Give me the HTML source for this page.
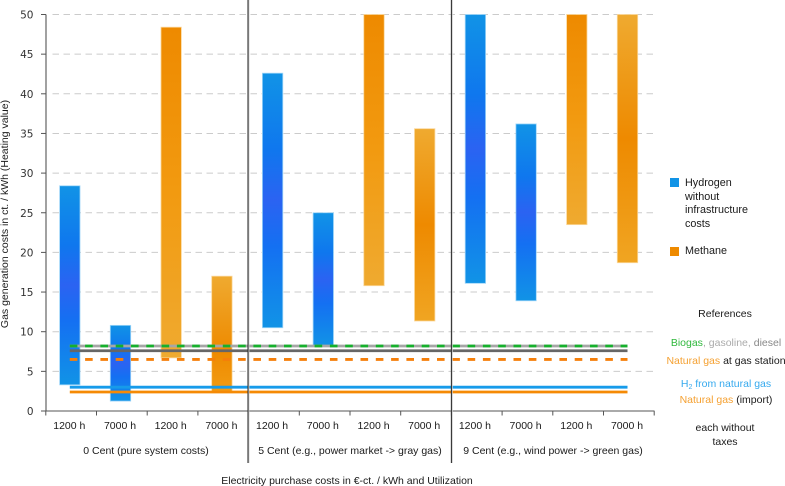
<!DOCTYPE html>
<html lang="en">
<head>
<meta charset="utf-8">
<title>Gas generation costs</title>
<style>
html,body{margin:0;padding:0;background:#fff;}
svg{display:block;font-family:"Liberation Sans",sans-serif;}
text{fill:#1a1a1a;font-size:10.5px;}
.ytick{font-family:"DejaVu Sans",sans-serif;font-size:10.5px;text-anchor:end;fill:#333;}
.c{text-anchor:middle;}
</style>
</head>
<body>
<svg id="chart" width="785" height="486" viewBox="0 0 785 486" xmlns="http://www.w3.org/2000/svg">
<defs>
<linearGradient id="blue-mid" x1="0" y1="0" x2="0" y2="1">
<stop offset="0" stop-color="#1193e6"/><stop offset="0.3" stop-color="#0f77ee"/><stop offset="0.5" stop-color="#2b63f2"/><stop offset="0.68" stop-color="#1470f2"/><stop offset="1" stop-color="#1193e6"/>
</linearGradient>
<linearGradient id="orange-down" x1="0" y1="0" x2="0" y2="1">
<stop offset="0" stop-color="#ee8a00"/><stop offset="0.5" stop-color="#f29a10"/><stop offset="1" stop-color="#efaa30"/>
</linearGradient>
<linearGradient id="orange-mid" x1="0" y1="0" x2="0" y2="1">
<stop offset="0" stop-color="#efaa30"/><stop offset="0.5" stop-color="#ee8a00"/><stop offset="1" stop-color="#f0a522"/>
</linearGradient>
<linearGradient id="orange-low" x1="0" y1="0" x2="0" y2="1">
<stop offset="0" stop-color="#efaa30"/><stop offset="0.65" stop-color="#ee8a00"/><stop offset="1" stop-color="#f29c12"/>
</linearGradient>
</defs>
<g id="grid"></g>
<g id="bars"></g>
<g id="refs"></g>
<g id="axes"></g>

<text class="c" transform="translate(8,214) rotate(-90)">Gas generation costs in ct. / kWh (Heating value)</text>
<text class="c" x="146" y="454">0 Cent (pure system costs)</text>
<text class="c" x="350" y="454">5 Cent (e.g., power market -&gt; gray gas)</text>
<text class="c" x="553" y="454">9 Cent (e.g.,  wind power -&gt; green gas)</text>
<text class="c" x="347" y="484">Electricity purchase costs in €-ct. / kWh and Utilization</text>

<g>
<rect x="670" y="178" width="9" height="9" fill="#1193e6"/>
<text x="685" y="186" style="font-size:10.8px">Hydrogen</text>
<text x="685" y="200" style="font-size:10.8px">without</text>
<text x="685" y="213" style="font-size:10.8px">infrastructure</text>
<text x="685" y="227" style="font-size:10.8px">costs</text>
<rect x="670" y="247" width="9" height="9" fill="#ee8a00"/>
<text x="685" y="254" style="font-size:10.8px">Methane</text>
</g>

<g>
<text class="c" x="725" y="317">References</text>
<text class="c" x="726" y="346"><tspan fill="#2fb83c" style="fill:#2fb83c">Biogas</tspan><tspan fill="#aaa" style="fill:#aaa">, gasoline, </tspan><tspan fill="#888" style="fill:#888">diesel</tspan></text>
<text class="c" x="726" y="364"><tspan fill="#f5a030" style="fill:#f5a030">Natural gas</tspan> at gas station</text>
<text class="c" x="726" y="387" style="fill:#35a9ee">H<tspan dy="2" style="font-size:7px;fill:#35a9ee">2</tspan><tspan dy="-2" style="fill:#35a9ee"> from natural gas</tspan></text>
<text class="c" x="726" y="403"><tspan fill="#f5a030" style="fill:#f5a030">Natural gas</tspan> (import)</text>
<text class="c" x="725" y="431">each without</text>
<text class="c" x="725" y="445">taxes</text>
</g>

<g>
<line x1="248.7" y1="0" x2="248.7" y2="463" stroke="#ccc" stroke-width="1.4"/>
<line x1="248" y1="0" x2="248" y2="463" stroke="#333" stroke-width="1.1"/>
<line x1="452" y1="0" x2="452" y2="463" stroke="#ccc" stroke-width="1.4"/>
<line x1="451.4" y1="0" x2="451.4" y2="463" stroke="#333" stroke-width="1.1"/>
</g>

<script>
var categories = ['1200 h', '7000 h', '1200 h', '7000 h', '1200 h', '7000 h', '1200 h', '7000 h', '1200 h', '7000 h', '1200 h', '7000 h'];
var seriesType = ['hydrogen', 'hydrogen', 'methane', 'methane', 'hydrogen', 'hydrogen', 'methane', 'methane', 'hydrogen', 'hydrogen', 'methane', 'methane'];
var lowValues = [3.3, 1.25, 6.7, 2.3, 10.5, 8.2, 15.8, 11.35, 16.1, 13.9, 23.5, 18.7];
var highValues = [28.4, 10.8, 48.4, 17, 42.6, 25, 50, 35.6, 50, 36.2, 50, 50];
var yTicks = [0, 5, 10, 15, 20, 25, 30, 35, 40, 45, 50];
var refBiogas = 8.2;
var refDiesel = 7.6;
var refStationGas = 6.5;
var refH2 = 3.0;
var refImportGas = 2.4;

var NS = 'http://www.w3.org/2000/svg';
function y(v) { return 411 - v * 7.93; }
function xEdge(i) { return 45.8 + i * 50.7; }
function xCenter(i) { return xEdge(i) + 24; }
function make(tag, parent, attrs) {
  var el = document.createElementNS(NS, tag);
  for (var k in attrs) el.setAttribute(k, attrs[k]);
  parent.appendChild(el);
  return el;
}
function gradientFor(i) {
  if (seriesType[i] === 'hydrogen') return 'url(#blue-mid)';
  if (i === 3) return 'url(#orange-low)';
  if (i === 7 || i === 11) return 'url(#orange-mid)';
  return 'url(#orange-down)';
}

var gridG = document.getElementById('grid');
yTicks.forEach(function (t) {
  if (t === 0) return;
  var gl = make('line', gridG, { x1: 52.5, x2: 654, y1: y(t), y2: y(t), stroke: '#cbcbcb', 'stroke-width': 1, 'stroke-dasharray': '6.5 4.5' });
  
  
});

var barsG = document.getElementById('bars');
categories.forEach(function (c, i) {
  var top = y(highValues[i]);
  var bottom = y(lowValues[i]);
  var halo = seriesType[i] === 'hydrogen' ? '#9fd6f8' : '#fbd79a';
  var b = make('rect', barsG, { x: xCenter(i) - 10.2, y: top, width: 20.4, height: bottom - top, fill: gradientFor(i), stroke: halo, 'stroke-width': 0.8 });
  
  
});

var refsG = document.getElementById('refs');
var x0 = xCenter(0);
var x1 = xCenter(categories.length - 1);
function refLine(v, color, dash) {
  var attrs = { x1: x0, x2: x1, y1: y(v), y2: y(v), stroke: color, 'stroke-width': 2.8 };
  if (dash) attrs['stroke-dasharray'] = dash;
  return make('line', refsG, attrs);
}
var r1 = refLine(refBiogas, '#a6a6a6');


var r2 = refLine(refBiogas, '#16b02c', '7.6 7.7');


var r3 = refLine(refDiesel, '#666666');


var r4 = refLine(refStationGas, '#f57f0a', '7.6 7.7');


var r5 = refLine(refH2, '#169bea');


var r6 = refLine(refImportGas, '#f58a05');



var axesG = document.getElementById('axes');
var ya = make('line', axesG, { x1: 46, x2: 46, y1: y(50), y2: 411.5, stroke: '#555', 'stroke-width': 1.1 });


var xa = make('line', axesG, { x1: 41, x2: 654.5, y1: 411, y2: 411, stroke: '#555', 'stroke-width': 1.1 });



yTicks.forEach(function (t) {
  var tk = make('line', axesG, { x1: 41, x2: 46, y1: y(t), y2: y(t), stroke: '#555', 'stroke-width': 1 });
  
  
  var lb = make('text', axesG, { x: 33.5, y: y(t) + 4, 'class': 'ytick' });
  lb.textContent = String(t);
  
  
});

for (var i = 0; i <= categories.length; i++) {
  var xt = make('line', axesG, { x1: xEdge(i), x2: xEdge(i), y1: 411, y2: 415.5, stroke: '#555', 'stroke-width': 1 });
  
  
}
categories.forEach(function (c, i) {
  var xl = make('text', axesG, { x: xCenter(i) - 0.5, y: 429, 'class': 'c' });
  xl.textContent = c;
  
  
});
</script>
</svg>
</body>
</html>
